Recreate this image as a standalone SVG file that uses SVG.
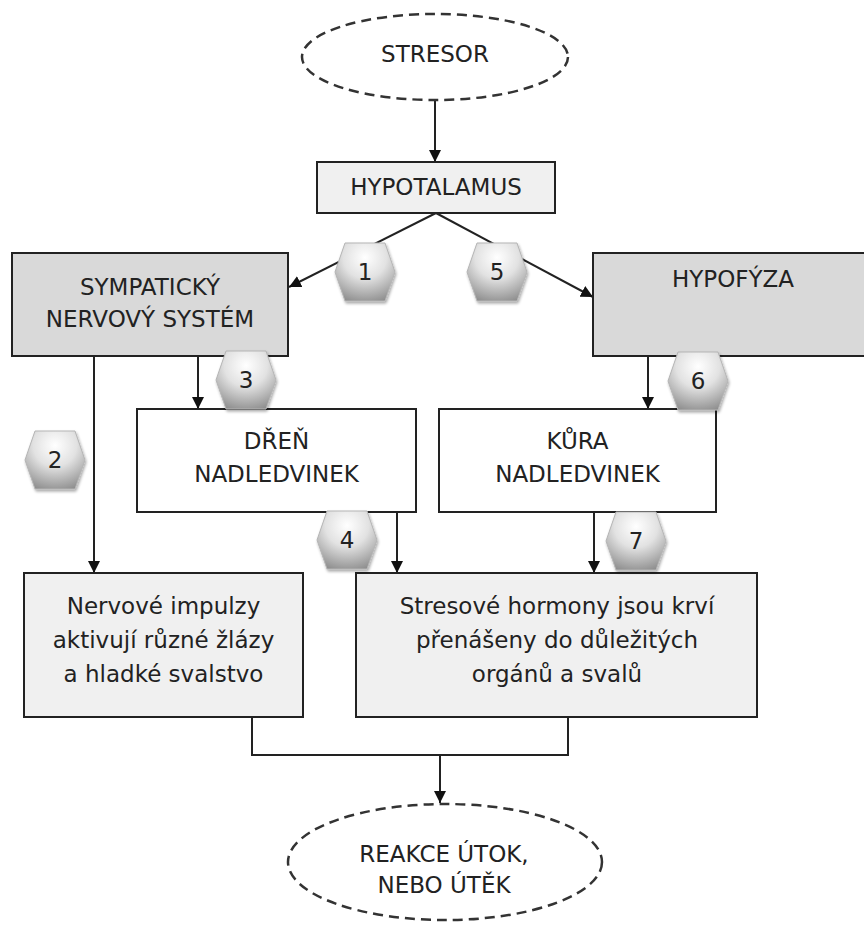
<svg xmlns="http://www.w3.org/2000/svg" width="864" height="927" viewBox="0 0 864 927">
<defs>
<marker id="arr" viewBox="0 0 12 12" refX="12" refY="6" markerWidth="12" markerHeight="12" markerUnits="userSpaceOnUse" orient="auto">
<path d="M0,0 L12,6 L0,12 Z" fill="#111"/>
</marker>
<radialGradient id="hexg" cx="0.5" cy="0.25" r="0.8">
<stop offset="0" stop-color="#ffffff"/>
<stop offset="0.45" stop-color="#e2e2e2"/>
<stop offset="1" stop-color="#8e8e8e"/>
</radialGradient>
<filter id="sh" x="-30%" y="-30%" width="160%" height="160%">
<feGaussianBlur in="SourceAlpha" stdDeviation="1.5"/>
<feOffset dx="1" dy="2" result="b"/>
<feComponentTransfer><feFuncA type="linear" slope="0.35"/></feComponentTransfer>
<feMerge><feMergeNode/><feMergeNode in="SourceGraphic"/></feMerge>
</filter>
<path id="hex" d="M-20,-29 L20,-29 L30,0 L20,29 L-20,29 L-30,0 Z"/>
</defs>
<style>
text{font-family:"DejaVu Sans","Verdana",sans-serif;font-size:23px;fill:#222;text-anchor:middle}
.box{stroke:#222;stroke-width:2}
.lg{fill:#f0f0f0}
.dg{fill:#d9d9d9}
.wh{fill:#ffffff}
.ell{fill:#fff;stroke:#333;stroke-width:2.5;stroke-dasharray:10 6}
.con{fill:none;stroke:#222;stroke-width:2}
.hx{fill:url(#hexg);stroke:#b5b5b5;stroke-width:1;filter:url(#sh)}
</style>
<rect width="864" height="927" fill="#fff"/>

<g id="connectors">
<line class="con" x1="435" y1="100" x2="435" y2="162" marker-end="url(#arr)"/>
<line class="con" x1="436" y1="213" x2="289" y2="287" marker-end="url(#arr)"/>
<line class="con" x1="436" y1="213" x2="593" y2="297" marker-end="url(#arr)"/>
<line class="con" x1="198" y1="356" x2="198" y2="409" marker-end="url(#arr)"/>
<line class="con" x1="648" y1="356" x2="648" y2="409" marker-end="url(#arr)"/>
<line class="con" x1="94" y1="356" x2="94" y2="573" marker-end="url(#arr)"/>
<line class="con" x1="397" y1="512" x2="397" y2="573" marker-end="url(#arr)"/>
<line class="con" x1="594" y1="512" x2="594" y2="573" marker-end="url(#arr)"/>
<polyline class="con" points="252,717 252,755 568,755 568,717"/>
<line class="con" x1="440" y1="755" x2="440" y2="803" marker-end="url(#arr)"/>
</g>

<g id="stresor">
<ellipse class="ell" cx="435" cy="57" rx="133" ry="43"/>
<text x="435" y="62">STRESOR</text>
</g>
<g id="hypotalamus">
<rect class="box lg" x="317" y="162" width="238" height="51"/>
<text x="436" y="195">HYPOTALAMUS</text>
</g>
<g id="sympaticky">
<rect class="box dg" x="12" y="253" width="276" height="103"/>
<text x="150" y="295">SYMPATICKÝ</text>
<text x="150" y="327">NERVOVÝ SYSTÉM</text>
</g>
<g id="hypofyza">
<rect class="box dg" x="593" y="253" width="280" height="103"/>
<text x="733" y="287">HYPOFÝZA</text>
</g>
<g id="dren">
<rect class="box wh" x="137" y="409" width="279" height="103"/>
<text x="276.5" y="449">DŘEŇ</text>
<text x="276.5" y="482">NADLEDVINEK</text>
</g>
<g id="kura">
<rect class="box wh" x="439" y="409" width="277" height="103"/>
<text x="577.5" y="449">KŮRA</text>
<text x="577.5" y="482">NADLEDVINEK</text>
</g>
<g id="nervove">
<rect class="box lg" x="24" y="573" width="279" height="144"/>
<text x="163.5" y="614">Nervové impulzy</text>
<text x="163.5" y="648">aktivují různé žlázy</text>
<text x="163.5" y="682">a hladké svalstvo</text>
</g>
<g id="stresove">
<rect class="box lg" x="356" y="573" width="401" height="144"/>
<text x="557" y="614">Stresové hormony jsou krví</text>
<text x="557" y="648">přenášeny do důležitých</text>
<text x="557" y="682">orgánů a svalů</text>
</g>
<g id="reakce">
<ellipse class="ell" cx="445" cy="862" rx="157" ry="58"/>
<text x="444" y="862">REAKCE ÚTOK,</text>
<text x="444" y="893">NEBO ÚTĚK</text>
</g>

<g id="hex1"><use href="#hex" class="hx" x="365" y="272"/><text x="365" y="280">1</text></g>
<g id="hex2"><use href="#hex" class="hx" x="55" y="460"/><text x="55" y="468">2</text></g>
<g id="hex3"><use href="#hex" class="hx" x="246" y="380"/><text x="246" y="388">3</text></g>
<g id="hex4"><use href="#hex" class="hx" x="347" y="540"/><text x="347" y="548">4</text></g>
<g id="hex5"><use href="#hex" class="hx" x="497" y="272"/><text x="497" y="280">5</text></g>
<g id="hex6"><use href="#hex" class="hx" x="698" y="381"/><text x="698" y="389">6</text></g>
<g id="hex7"><use href="#hex" class="hx" x="636" y="541"/><text x="636" y="549">7</text></g>
</svg>
